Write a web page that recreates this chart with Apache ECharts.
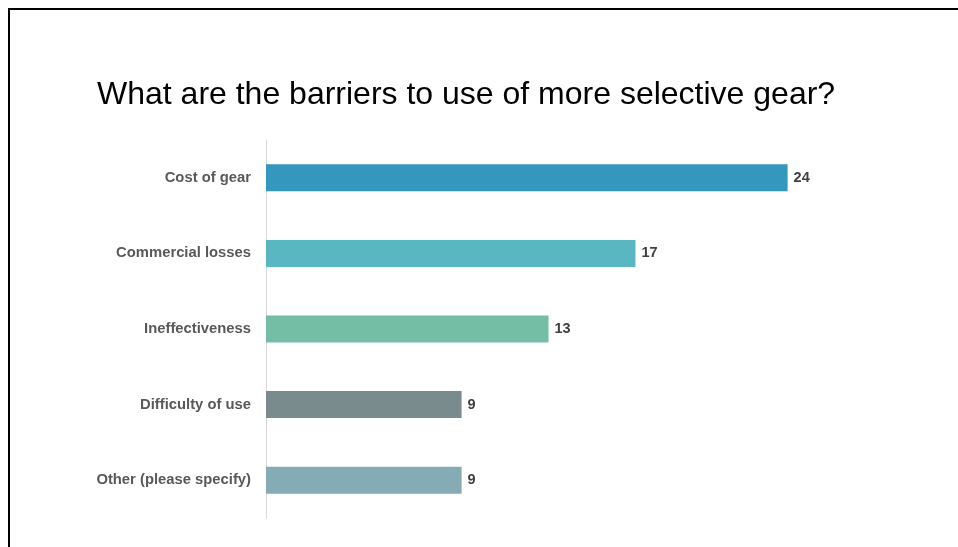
<!DOCTYPE html>
<html>
<head>
<meta charset="utf-8">
<script src="https://cdn.jsdelivr.net/npm/echarts@6/dist/echarts.min.js"></script>
<style>
  html, body { margin: 0; padding: 0; background: #fff; }
  #chart-container { width: 958px; height: 547px; }
</style>
</head>
<body>
<div id="chart-container"></div>
<script>
var dom = document.getElementById('chart-container');
var myChart = echarts.init(dom, null, { renderer: 'canvas' });

// data, top to bottom as shown
const categories = ['Cost of gear', 'Commercial losses', 'Ineffectiveness', 'Difficulty of use', 'Other (please specify)'];
const counts = [24, 17, 13, 9, 9];
const barColors = ['#3497be', '#58b7c1', '#75bea6', '#7a8b8d', '#85abb5'];

var option = {
  animation: false,
  title: {
    text: 'What are the barriers to use of more selective gear?',
    left: 97,
    top: 79,
    padding: 0,
    textStyle: {
      fontFamily: 'Liberation Sans',
      fontSize: 32,
      fontWeight: 'normal',
      color: '#000'
    }
  },
  graphic: [
    // slide border (top and left edges)
    { type: 'line', shape: { x1: 8, y1: 9, x2: 958, y2: 9 }, style: { stroke: '#000', lineWidth: 2 } },
    { type: 'line', shape: { x1: 9, y1: 8, x2: 9, y2: 547 }, style: { stroke: '#000', lineWidth: 2 } }
  ],
  grid: {
    left: 266,
    top: 140,
    width: 652,
    height: 378
  },
  xAxis: {
    type: 'value',
    min: 0,
    max: 30,
    show: false
  },
  yAxis: {
    type: 'category',
    inverse: true,
    data: categories,
    axisLine: { show: true, lineStyle: { color: '#d9d9d9', width: 1 } },
    axisTick: { show: false },
    axisLabel: {
      margin: 15,
      fontFamily: 'Liberation Sans',
      fontSize: 14.8,
      fontWeight: 'bold',
      color: '#595959'
    }
  },
  series: [{
    type: 'bar',
    barWidth: 27,
    data: counts.map(function (v, i) {
      return { value: v, itemStyle: { color: barColors[i] } };
    }),
    label: {
      show: true,
      position: 'right',
      distance: 6,
      fontFamily: 'Liberation Sans',
      fontSize: 14.5,
      fontWeight: 'bold',
      color: '#404040'
    }
  }]
};

myChart.setOption(option);
window.addEventListener('resize', myChart.resize);
</script>
</body>
</html>
